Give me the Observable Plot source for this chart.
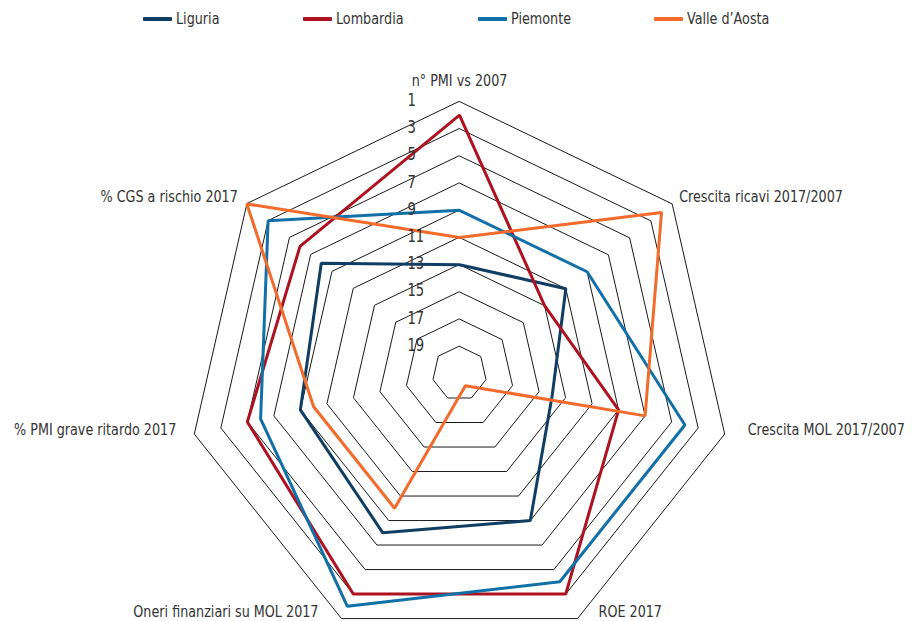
<!DOCTYPE html>
<html>
<head>
<meta charset="utf-8">
<script src="https://cdn.jsdelivr.net/npm/d3@7"></script>
<script src="https://cdn.jsdelivr.net/npm/@observablehq/plot@0.6"></script>
<style>
  html, body { margin: 0; padding: 0; background: #fff; }
  #wrap { width: 922px; font-family: "Liberation Sans Narrow", "Arial Narrow", "DejaVu Sans Condensed", sans-serif; color: #333; }
  #legend { position: relative; width: 922px; height: 38px; }
  .lg-line { position: absolute; top: 17px; width: 29px; height: 4px; border-radius: 1px; }
  .lg-text { position: absolute; top: 8px; font-size: 16.5px; line-height: 22px; color: #333; transform: scaleX(0.86); transform-origin: 0 50%; white-space: nowrap; }
  svg { display: block; }
</style>
</head>
<body>
<div id="wrap">
  <div id="legend"></div>
  <div id="chart"></div>
</div>
<script>
// ---------- data ----------
const axesNames = [
  "n° PMI vs 2007",
  "Crescita ricavi 2017/2007",
  "Crescita MOL 2017/2007",
  "ROE 2017",
  "Oneri finanziari su MOL 2017",
  "% PMI grave ritardo 2017",
  "% CGS a rischio 2017"
];
const seriesNames = ["Liguria", "Lombardia", "Piemonte", "Valle d’Aosta"];
const liguria    = [13, 11, 14, 9, 8, 9, 8];
const lombardia  = [2, 13, 9, 3, 3, 5, 6];
const piemonte   = [9, 9, 4, 4, 2, 6, 3];
const valleAosta = [11, 2, 7, 20, 10, 10, 1];
const ringRanks  = [1, 3, 5, 7, 9, 11, 13, 15, 17, 19];
const tickLabels = ["1", "3", "5", "7", "9", "11", "13", "15", "17", "19"];

// ---------- styling / layout ----------
const colors = ["#0f3d64", "#ae1220", "#1170a7", "#f36a2b"];
const W = 922, H = 583, CX = 459, CY = 335;
const SX = 0.86; // horizontal condensing of text to mimic a condensed face
const rScale = d3.scaleLinear().domain([21, 1]).range([0, 272]);
const n = axesNames.length;
const ang = i => (2 * Math.PI * i) / n;
const pt = (i, rank) => {
  const r = rScale(rank);
  return { X: r * Math.sin(ang(i)), Y: r * Math.cos(ang(i)) };
};

// rings
const rings = [];
ringRanks.forEach(rk => {
  for (let i = 0; i < n; i++) rings.push({ ring: rk, ...pt(i, rk) });
});

// series polygons
const allSeries = [liguria, lombardia, piemonte, valleAosta];
const seriesPts = [];
allSeries.forEach((vals, s) => {
  vals.forEach((v, i) => seriesPts.push({ series: seriesNames[s], ...pt(i, v) }));
});

// axis labels: offsets in pixels from outer vertex
const labelLayout = [
  { dx: 0, dy: -21, anchor: "middle" },
  { dx: 7, dy: -7.5, anchor: "start" },
  { dx: 23, dy: -4.5, anchor: "start" },
  { dx: 21, dy: -7, anchor: "start" },
  { dx: -23, dy: -7, anchor: "end" },
  { dx: -18, dy: -4.5, anchor: "end" },
  { dx: -9, dy: -7.5, anchor: "end" }
];
const axisLabels = axesNames.map((name, i) => {
  const p = pt(i, 1);
  return { name, X: p.X + labelLayout[i].dx, Y: p.Y - labelLayout[i].dy, anchor: labelLayout[i].anchor };
});

const ticks = ringRanks.map((rk, k) => ({ label: tickLabels[k], X: -52, Y: rScale(rk) + 1 }));

const font = '"Liberation Sans Narrow", "Arial Narrow", "DejaVu Sans Condensed", sans-serif';

const chart = Plot.plot({
  width: W,
  height: H,
  margin: 0,
  style: { fontFamily: font, background: "#fff", overflow: "visible" },
  x: { domain: [-CX, W - CX], range: [0, W], axis: null },
  y: { domain: [CY, CY - H], range: [0, H], axis: null },
  color: { domain: seriesNames, range: colors },
  marks: [
    Plot.line(rings, { x: "X", y: "Y", z: "ring", curve: "linear-closed", stroke: "#1a1a1a", strokeWidth: 1 }),
    Plot.line(seriesPts, { x: "X", y: "Y", z: "series", stroke: "series", curve: "linear-closed", strokeWidth: 3, strokeLinejoin: "miter" }),
    Plot.text(ticks, { x: "X", y: "Y", text: "label", textAnchor: "start", fontSize: 17, fill: "#333" }),
    ...["start", "middle", "end"].map(a =>
      Plot.text(axisLabels.filter(d => d.anchor === a), { x: "X", y: "Y", text: "name", textAnchor: a, fontSize: 16.5, fill: "#333" })
    )
  ]
});
document.getElementById("chart").appendChild(chart);

// condense text horizontally around its anchor point
chart.querySelectorAll("text").forEach(t => {
  const tr = t.getAttribute("transform");
  if (tr && /translate/.test(tr)) {
    t.setAttribute("transform", tr + ` scale(${SX},1)`);
  } else {
    const x = +(t.getAttribute("x") || 0), y = +(t.getAttribute("y") || 0);
    t.setAttribute("transform", `translate(${x},${y}) scale(${SX},1) translate(${-x},${-y})`);
  }
});

// legend
const legendLeft = [143, 303, 478, 654];
const legend = document.getElementById("legend");
seriesNames.forEach((name, i) => {
  const l = document.createElement("div");
  l.className = "lg-line";
  l.style.left = legendLeft[i] + "px";
  l.style.background = colors[i];
  legend.appendChild(l);
  const t = document.createElement("div");
  t.className = "lg-text";
  t.style.left = (legendLeft[i] + 33) + "px";
  t.textContent = name;
  legend.appendChild(t);
});
</script>
</body>
</html>
